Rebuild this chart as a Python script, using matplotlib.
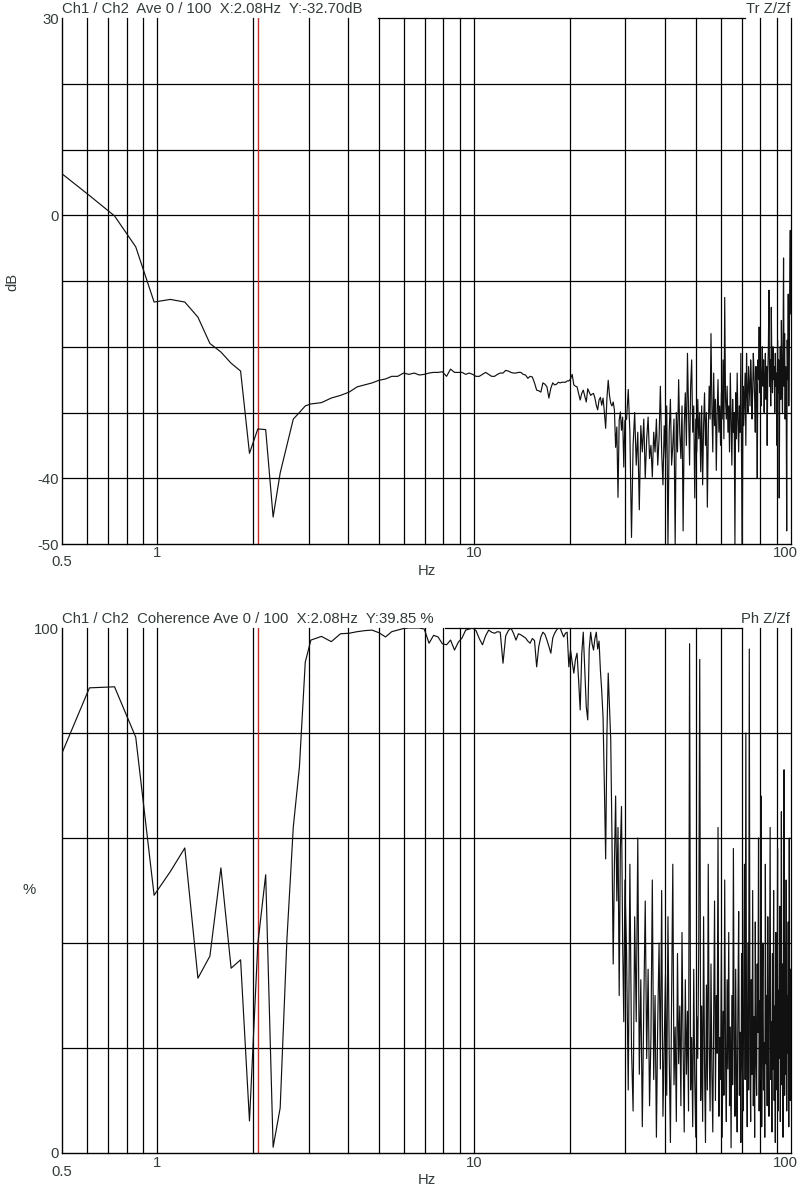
import numpy as np
import matplotlib
matplotlib.use("Agg")
import matplotlib.pyplot as plt
from matplotlib.transforms import blended_transform_factory, offset_copy
from matplotlib.ticker import NullLocator

plt.rcParams['font.family'] = ['Liberation Sans', 'DejaVu Sans']

# ---------------- data ----------------
DF = 0.12207  # FFT bin width in Hz
bins_A = list(range(4, 26))          # every bin, 0.49 - 3.05 Hz
bins_B = list(range(27, 82, 2))      # 3.3 - 9.9 Hz
bins_C = list(range(83, 246, 2))     # 10.1 - 29.9 Hz
bins_D = list(range(248, 819, 3))    # 30.3 - 99.9 Hz

# transfer function magnitude (dB)
tr_A = [6.7, 3.0, -0.1, -4.8, -13.2, -12.8, -13.2, -15.5, -19.5, -20.8, -22.5,
        -23.7, -36.2, -32.5, -32.6, -45.9, -39.2, -35.0, -31.0, -30.0, -29.0, -28.7]
tr_B = [-28.5, -27.8, -27.4, -26.9, -26.1, -25.8, -25.5, -25.1, -24.9, -24.5,
        -24.5, -24.0, -24.2, -24.0, -24.3, -24.2, -24.0, -23.9, -23.9, -23.8,
        -24.5, -23.4, -23.9, -23.9, -23.9, -24.2, -24.0, -24.2]
tr_C = [-24.5, -24.5, -24.2, -23.9, -24.2, -24.5, -24.5, -24.2, -24.0, -24.0,
        -23.6, -23.7, -23.9, -24.0, -24.0, -23.9, -23.9, -24.2, -24.3, -24.8,
        -24.5, -24.6, -25.5, -26.6, -26.7, -26.9, -25.5, -25.7, -26.1, -27.8,
        -26.3, -25.5, -25.8, -25.7, -25.4, -25.5, -25.4, -25.4, -25.4, -25.2,
        -25.2, -24.9, -24.2, -25.8, -26.0, -26.1, -27.1, -28.1, -27.1, -26.6,
        -27.5, -28.4, -26.4, -26.9, -27.4, -27.2, -27.1, -27.8, -28.9, -29.6,
        -28.1, -27.7, -28.9, -27.8, -29.9, -32.4, -27.8, -25.1, -27.4, -28.6,
        -29.0, -28.4, -29.6, -35.3, -32.2, -42.9, -31.2, -29.9, -32.7, -30.7,
        -38.3, -31.2]
tr_D = [-31, -26.5, -33, -49, -35, -30, -38, -33, -44.8, -32,
        -36, -31, -40, -34, -30.7, -37, -35, -39.8, -33, -36,
        -31, -38, -34, -26, -36, -41, -32, -37, -29, -50,
        -33, -28, -38, -35, -31, -50, -30, -36, -25, -33,
        -37, -29, -48, -32, -27, -35, -21, -30, -38, -26,
        -22, -33, -29, -43, -31, -36, -28, -34, -30, -39,
        -29, -41, -32, -27, -35, -30, -44.4, -33, -26, -31,
        -18, -29, -36, -24, -32, -28, -38.8, -30, -25, -33,
        -29, -35, -27, -31, -22, -34, -12.5, -28, -31, -26,
        -33, -29, -36, -24, -31, -38, -28, -33, -30, -50,
        -27, -34, -24, -31, -36, -29, -33, -21, -38, -50,
        -26, -32, -28, -24, -35, -21, -27, -30, -23, -26,
        -29, -22, -25, -31, -27, -21, -24, -28, -33, -23,
        -26, -40, -22, -25, -17, -27, -23, -29, -24, -20,
        -26, -22, -30, -25, -21, -28, -23, -35, -24, -20,
        -11.4, -26, -22, -29, -14, -24, -27, -20, -25, -23,
        -30, -21, -26, -24, -35, -19, -27, -22, -43, -25,
        -20, -28, -16, -24, -30, -21, -6.5, -26, -18, -31,
        -23, -27, -48, -19, -25, -12, -29, -21, -9, -2.3, -15]

# coherence (%)
coh_A = [74.7, 88.6, 88.8, 79.2, 49.1, 53.6, 58.1, 33.3, 37.5, 54.3, 35.2,
         36.8, 6.1, 39.85, 53.0, 1.1, 8.6, 40.6, 62.1, 73.5, 93.5, 97.7]
coh_B = [98.4, 97.4, 98.9, 99.0, 99.3, 99.5, 99.6, 99.1, 98.3, 99.3,
         99.6, 99.9, 100, 100, 100, 99.8, 97.1, 98.6, 98.3, 97.0,
         96.8, 97.7, 95.8, 97.3, 98.1, 99.6, 99.8, 100]
coh_C = [99.5, 98.0, 96.8, 98.5, 99.6, 99.2, 99.0, 99.3, 99.2, 93.3,
         98.5, 99.5, 100, 99.0, 97.7, 98.9, 98.7, 98.4, 98.1, 97.5,
         97.1, 98.0, 97.6, 92.6, 96.5, 98.3, 99.2, 98.8, 97.7, 96.5,
         95.2, 98.1, 99.0, 99.6, 100, 100, 99.1, 98.3, 99.0, 99.2,
         92.6, 95.8, 93.5, 91.4, 94.0, 95.2, 90.0, 84.4, 95.0, 99.2,
         92.0, 85.0, 82.5, 96.0, 99.2, 97.0, 95.8, 98.0, 99.2, 96.0,
         97.5, 92.0, 88.0, 83.0, 70.0, 56.0, 80.0, 91.4, 85.0, 78.7,
         60.0, 36.0, 55.0, 68.0, 48.0, 62.0, 30.0, 58.0, 66.0, 40.0,
         25.0, 52.0]
coh_D = [38, 12, 55, 20, 8, 45, 25, 60, 15, 33,
         5, 28, 48, 18, 35, 9, 22, 52, 14, 30,
         3, 25, 40, 16, 50, 7, 21, 34, 11, 45,
         19, 2, 30, 55, 13, 24, 6, 38, 17, 28,
         9, 42, 20, 4, 33, 15, 27, 8, 97, 12,
         22, 5, 35, 14, 3, 26, 18, 40, 94, 10,
         28, 6, 45, 17, 2, 32, 12, 55, 20, 8,
         36, 15, 4, 25, 48, 10, 30, 19, 62, 7,
         22, 14, 40, 3, 27, 11, 52, 18, 6, 33,
         16, 42, 9, 24, 1, 30, 13, 58, 21, 7,
         35, 15, 4, 28, 46, 11, 23, 2, 38, 17,
         8, 30, 55, 14, 80, 22, 5, 40, 12, 96,
         20, 6, 33, 15, 50, 9, 26, 3, 44, 18,
         11, 36, 23, 60, 8, 29, 14, 68, 5, 25,
         40, 12, 21, 3, 55, 17, 30, 9, 45, 19,
         7, 33, 62, 14, 25, 4, 38, 16, 50, 10,
         28, 2, 42, 20, 12, 58, 8, 31, 18, 47,
         6, 24, 65, 13, 36, 3, 27, 73, 11, 40,
         15, 52, 8, 30, 19, 44, 5, 60, 22, 10, 35]

freq = np.array(bins_A + bins_B + bins_C + bins_D) * DF
tr_db = np.array(tr_A + tr_B + tr_C + tr_D)
coh_pct = np.array(coh_A + coh_B + coh_C + coh_D)

cursor_hz = 2.08
title_top = "Ch1 / Ch2  Ave 0 / 100  X:2.08Hz  Y:-32.70dB"
title_bot = "Ch1 / Ch2  Coherence Ave 0 / 100  X:2.08Hz  Y:39.85 %"
tag_top = "Tr Z/Zf"
tag_bot = "Ph Z/Zf"
grid_x = [0.6, 0.7, 0.8, 0.9, 1, 2, 3, 4, 5, 6, 7, 8, 9, 10,
          20, 30, 40, 50, 60, 70, 80, 90, 100]
grid_top = [20, 10, 0, -10, -20, -30, -40]
grid_bot = [20, 40, 60, 80]
ylabels_top = [30, 0, -40, -50]
ylabels_bot = [100, 0]

# ---------------- figure ----------------
W, H = 801, 1193
TXT = '#333b3b'
FS = 10.7
fig = plt.figure(figsize=(W / 100, H / 100), dpi=100)


def px_axes(x0, y0, x1, y1):
    return fig.add_axes([x0 / W, 1 - y1 / H, (x1 - x0) / W, (y1 - y0) / H])


def setup(ax, ylo, yhi, hgrid, ylabs, top_span, ybot_px, yx_px):
    ax.set_xscale('log')
    ax.set_xlim(0.5, 100)
    ax.set_ylim(ylo, yhi)
    for s in ['top', 'right']:
        ax.spines[s].set_visible(False)
    for s in ['left', 'bottom']:
        ax.spines[s].set_color('black')
        ax.spines[s].set_linewidth(1.0)
    for gx in grid_x:
        ax.axvline(gx, color='black', lw=0.9, zorder=1, clip_on=False)
    for gy in hgrid:
        ax.axhline(gy, color='black', lw=0.9, zorder=1)
    ax.axhline(yhi, xmin=top_span[0], xmax=top_span[1], color='black',
               lw=0.9, zorder=1, clip_on=False)
    ax.axvline(cursor_hz, color='#c42a2a', lw=1.0, zorder=2)
    ax.xaxis.set_minor_locator(NullLocator())
    ax.set_xticks([])
    ax.set_yticks(ylabs)
    ax.set_yticklabels([str(v) for v in ylabs])
    ax.tick_params(axis='both', length=0, pad=2, labelsize=FS, labelcolor=TXT)
    trans = blended_transform_factory(ax.transData, fig.transFigure)
    for f, lab, ypx in [(0.5, '0.5', ybot_px + 9), (1, '1', ybot_px), (10, '10', ybot_px)]:
        ax.text(f, 1 - ypx / H, lab, transform=trans, ha='center', va='center',
                fontsize=FS, color=TXT, clip_on=False)
    ax.text(100, 1 - ybot_px / H, '100',
            transform=offset_copy(trans, fig=fig, x=-6, units='dots'),
            ha='center', va='center', fontsize=FS, color=TXT, clip_on=False)
    fig.text(427 / W, 1 - yx_px / H, 'Hz', ha='center', va='center',
             fontsize=FS, color=TXT)


ax1 = px_axes(62, 18, 791, 544)
setup(ax1, -50, 30, grid_top, ylabels_top, (0.4335, 0.937), 553, 571)
ax1.plot(freq, tr_db, color='#111111', lw=0.85, zorder=3)

ax2 = px_axes(62, 628, 791, 1153)
setup(ax2, 0, 100, grid_bot, ylabels_bot, (0.5254, 0.9328), 1163, 1180)
ax2.plot(freq, coh_pct, color='#111111', lw=0.85, zorder=3)

fig.text(62 / W, 1 - 9 / H, title_top, ha='left', va='center', fontsize=FS, color=TXT)
fig.text(790 / W, 1 - 9 / H, tag_top, ha='right', va='center', fontsize=FS, color=TXT)
fig.text(62 / W, 1 - 619 / H, title_bot, ha='left', va='center', fontsize=FS, color=TXT)
fig.text(790 / W, 1 - 619 / H, tag_bot, ha='right', va='center', fontsize=FS, color=TXT)
fig.text(12 / W, 1 - 282 / H, 'dB', rotation=90, ha='center', va='center',
         fontsize=FS, color=TXT)
fig.text(29 / W, 1 - 890 / H, '%', ha='center', va='center', fontsize=FS, color=TXT)

fig.savefig('out.png', dpi=100)
